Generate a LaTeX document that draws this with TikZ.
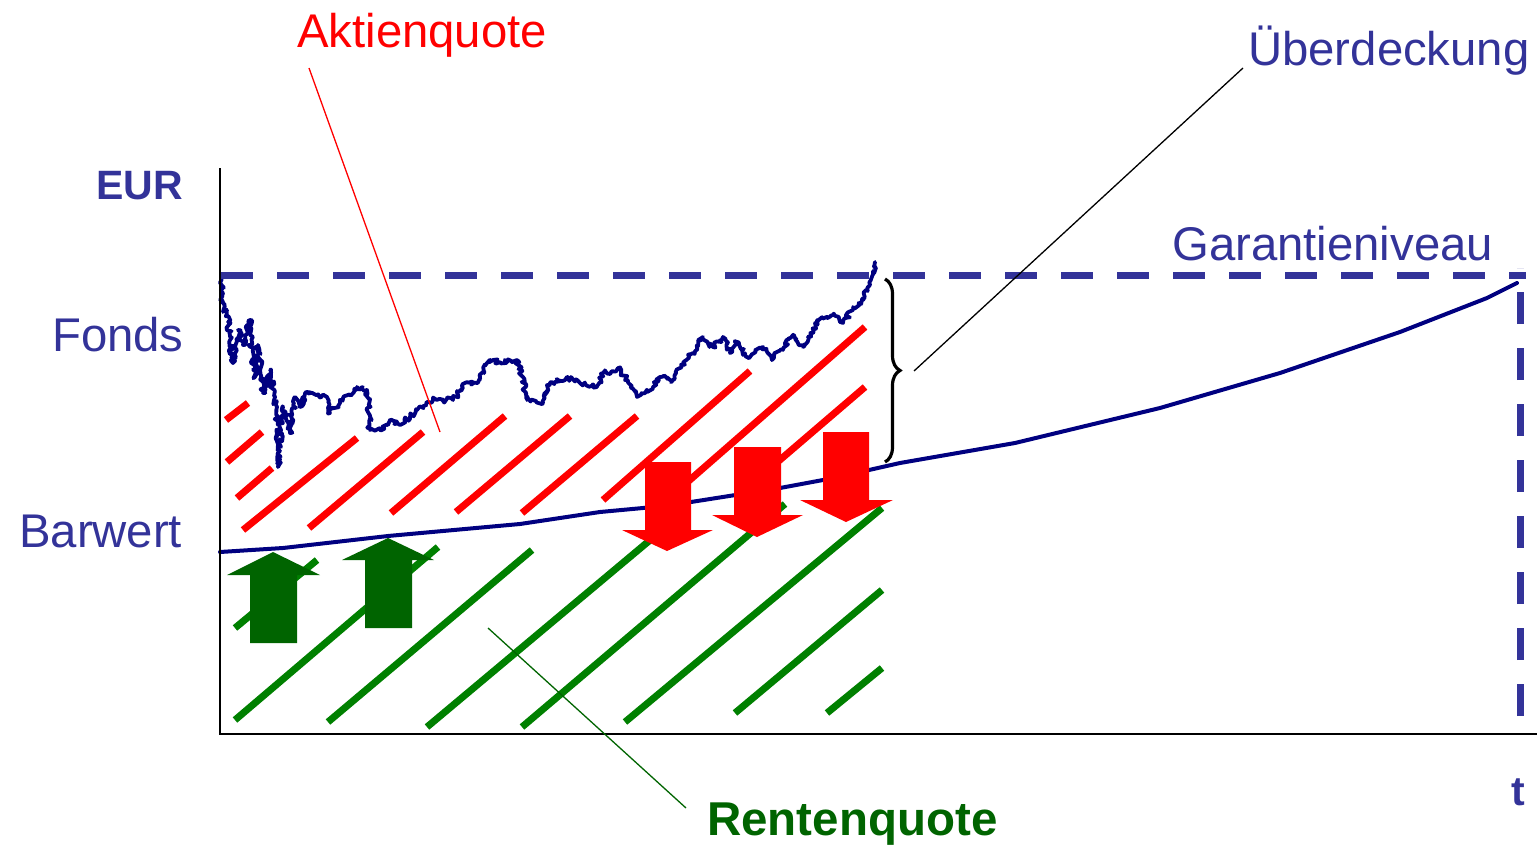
\documentclass[tikz,border=0pt]{standalone}
\usepackage{fontspec}
\setmainfont{Liberation Sans}
\usetikzlibrary{decorations.pathmorphing,decorations.pathreplacing}
\definecolor{txtblue}{HTML}{333399}
\definecolor{navyc}{HTML}{000080}
\definecolor{hgreen}{HTML}{008000}
\definecolor{dgreen}{HTML}{006400}
\begin{document}
\begin{tikzpicture}[x=1pt,y=-1pt,
  redhatch/.style={draw=red,line width=7pt},
  greenhatch/.style={draw=hgreen,line width=7pt},
  redarrow/.style={fill=red,draw=none},
  greenarrow/.style={fill=dgreen,draw=none},
  curve/.style={draw=navyc,line width=4pt,line join=round,line cap=round},
  guarantee/.style={draw=txtblue,line width=7pt,dash pattern=on 32pt off 24pt},
  axis/.style={draw=black,line width=2pt},
  lbl/.style={inner sep=0pt,anchor=base west,font=\fontsize{47.3}{56}\selectfont},
  blbl/.style={inner sep=0pt,anchor=base west,font=\fontsize{41}{50}\selectfont\bfseries},
  leader/.style={line width=1.3pt}
]
\useasboundingbox (0,0) rectangle (1537,846);

% red hatch (Aktienquote)
\draw[redhatch] (226,420) -- (248,403);
\draw[redhatch] (227,462) -- (262,432);
\draw[redhatch] (237,498) -- (272,468);
\draw[redhatch] (243,530) -- (357,438);
\draw[redhatch] (309,528) -- (423,432);
\draw[redhatch] (391,513) -- (505,416);
\draw[redhatch] (456,512) -- (570,416);
\draw[redhatch] (522,513) -- (637,416);
\draw[redhatch] (603,500) -- (750,371);
\draw[redhatch] (660,506) -- (865,327);
\draw[redhatch] (760,477) -- (865,387);

% green hatch (Rentenquote)
\draw[greenhatch] (235,628) -- (317,560);
\draw[greenhatch] (235,720) -- (438,547);
\draw[greenhatch] (328,722) -- (532,550);
\draw[greenhatch] (427,727) -- (680,515);
\draw[greenhatch] (522,727) -- (785,504);
\draw[greenhatch] (625,722) -- (882,508);
\draw[greenhatch] (735,713) -- (882,590);
\draw[greenhatch] (827,713) -- (882,668);

% Fonds curve
\pgfmathsetseed{7}
\draw[curve,line width=3.8pt,decorate,decoration={random steps,segment length=2pt,amplitude=2.6pt}]
 (221,278) -- (222,300) -- (223,312) -- (227,310) -- (230,340) -- (233,363) -- (238,330)
 -- (243,345) -- (250,320) -- (252,360) -- (255,377) -- (258,345) -- (263,393) -- (270,370)
 -- (274,400) -- (277,407) -- (278,467) -- (281,430) -- (283,407) -- (290,433) -- (295,397)
 -- (300,407) -- (307,392) -- (317,395) -- (327,397) -- (330,413) -- (340,403) -- (357,387)
 -- (367,390) -- (370,430) -- (380,430) -- (390,420) -- (400,425) -- (417,410) -- (433,400)
 -- (453,400) -- (467,382) -- (477,383) -- (487,363) -- (493,360) -- (500,362) -- (517,360)
 -- (523,377) -- (527,400) -- (543,403) -- (550,383) -- (567,377) -- (580,383) -- (597,387)
 -- (603,373) -- (620,370) -- (627,380) -- (637,397) -- (653,387) -- (660,377) -- (673,380)
 -- (683,363) -- (693,353) -- (703,337) -- (713,347) -- (723,337) -- (730,353) -- (737,342)
 -- (747,357) -- (763,347) -- (772,360) -- (780,350) -- (793,335) -- (803,347) -- (813,333)
 -- (817,320) -- (833,315) -- (843,323) -- (853,307) -- (863,300) -- (866,290) -- (870,285)
 -- (873,275) -- (875,262);

% Barwert curve
\draw[curve] (220,552) -- (283,548) -- (388,536) -- (520,524) -- (600,512) -- (643,508)
 -- (691,502) -- (780,488) -- (823,480) -- (869,470) -- (900,463) -- (1015,443)
 -- (1160,408) -- (1280,373) -- (1400,332) -- (1487,298) -- (1517,283);

% red arrows (down)
\fill[redarrow] (645,462) -- (691,462) -- (691,530) -- (713,530) -- (667,551) -- (622,530) -- (645,530) -- cycle;
\fill[redarrow] (734,447) -- (781,447) -- (781,515) -- (803,515) -- (757,537) -- (712,515) -- (734,515) -- cycle;
\fill[redarrow] (823,432) -- (869,432) -- (869,500) -- (893,500) -- (846,522) -- (800,500) -- (823,500) -- cycle;

% green arrows (up)
\fill[greenarrow] (250,643) -- (297,643) -- (297,575) -- (320,575) -- (273,552) -- (227,575) -- (250,575) -- cycle;
\fill[greenarrow] (365,628) -- (412,628) -- (412,560) -- (434,560) -- (388,538) -- (342,560) -- (365,560) -- cycle;

% guarantee level
\coordinate (gl-start) at (221,275);
\coordinate (gl-end) at (1526,275);
\coordinate (gv-bottom) at (1520,716);
\coordinate (gv-top) at (1520,268);
\draw[guarantee] (gl-start) -- (gl-end);
\draw[guarantee] (gv-bottom) -- (gv-top);

% axes
\coordinate (origin) at (220,734);
\coordinate (ytop) at (220,168);
\coordinate (xend) at (1537,734);
\draw[axis] (ytop) -- (origin) -- (xend);

% brace
\coordinate (br-top) at (885,279);
\coordinate (br-bot) at (885,462);
\draw[line width=3.2pt,decorate,decoration={brace,amplitude=15pt}] (br-top) -- (br-bot);

% labels
\node[lbl,text=red] (aktien) at (297,47) {Aktienquote};
\node[lbl,text=txtblue] (ueber) at (1248,65) {Überdeckung};
\node[lbl,text=txtblue] (garantie) at (1172,260) {Garantieniveau};
\node[blbl,text=txtblue] (eur) at (96,199) {EUR};
\node[lbl,text=txtblue] (fonds) at (52,351) {Fonds};
\node[lbl,text=txtblue] (barwert) at (19,547) {Barwert};
\node[lbl,text=dgreen,font=\fontsize{47.5}{56}\selectfont\bfseries] (renten) at (707,835) {Rentenquote};
\node[blbl,text=txtblue] (tlabel) at (1511,805) {t};

% leaders
\coordinate (aq-top) at (309,68);
\coordinate (aq-end) at (440,432);
\coordinate (ud-top) at (1243,68);
\coordinate (ud-end) at (914,371);
\coordinate (rq-top) at (488,628);
\coordinate (rq-end) at (686,808);
\draw[leader,red] (aq-top) -- (aq-end);
\draw[leader,black] (ud-top) -- (ud-end);
\draw[leader,dgreen] (rq-top) -- (rq-end);
\end{tikzpicture}
\end{document}
